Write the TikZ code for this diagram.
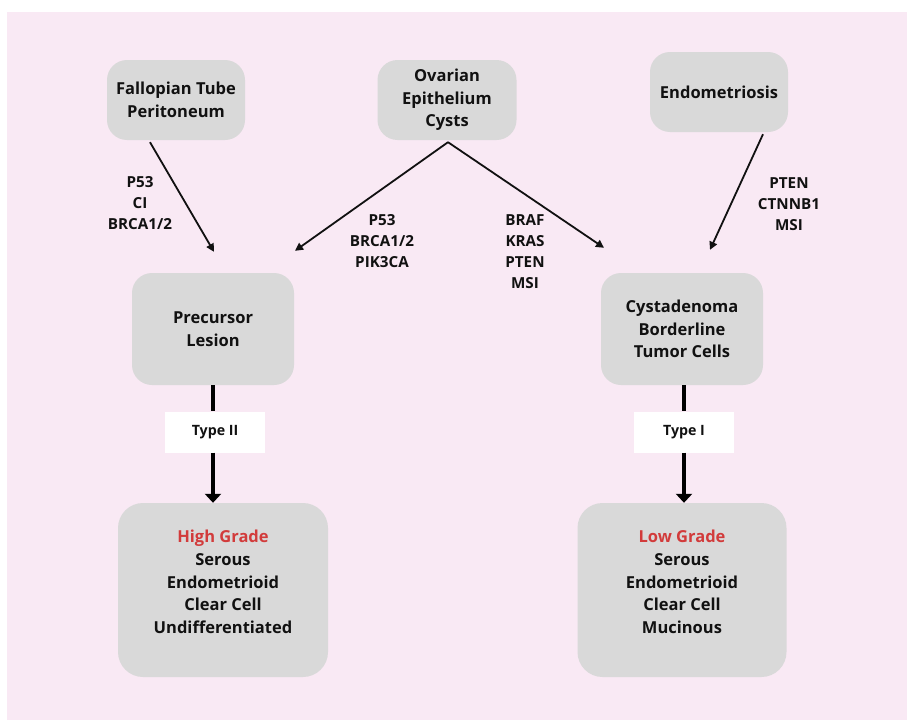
\documentclass[tikz,border=0pt]{standalone}
\usepackage{fontspec}
\setmainfont{Open Sans}
\usetikzlibrary{arrows.meta,calc}
\definecolor{bgpink}{HTML}{F9E9F4}
\definecolor{boxgray}{HTML}{D9D9D9}
\definecolor{gradered}{HTML}{D23B3B}
\definecolor{txt}{HTML}{111111}
\begin{document}
\begin{tikzpicture}[x=1pt,y=-1pt,
  box/.style={fill=boxgray, rounded corners=20pt, inner sep=0pt, align=center,
    text=txt, font=\fontsize{16.5}{22.7}\selectfont\bfseries},
  lbl/.style={align=center, text=txt, inner sep=0pt,
    font=\fontsize{15.2}{21}\selectfont\bfseries},
  typebox/.style={fill=white, inner sep=0pt, minimum width=100pt, minimum height=41pt,
    text=txt, font=\fontsize{14.2}{16}\selectfont\bfseries},
  thin/.style={draw=txt, line width=1.8pt, -{Triangle[length=8pt,width=8pt]}},
  thick/.style={draw=black, line width=4pt},
  thickarr/.style={thick, -{Triangle[length=9pt,width=16pt]}}
]
\useasboundingbox (0,0) rectangle (907,720);
\fill[bgpink] (7,12) rectangle (907,720);

% top nodes
\node[box, minimum width=138pt, minimum height=80pt] (fal) at (176,100) {Fallopian Tube\\Peritoneum};
\node[box, minimum width=139pt, minimum height=80pt] (ova) at (447,100) {Ovarian\\Epithelium\\Cysts};
\node[box, minimum width=138pt, minimum height=80pt] (endo) at (719,92) {Endometriosis};

% middle nodes
\node[box, minimum width=162pt, minimum height=112pt] (pre) at (213,329) {Precursor\\Lesion};
\node[box, minimum width=162pt, minimum height=112pt] (cys) at (682,329) {Cystadenoma\\Borderline\\Tumor Cells};

% bottom nodes
\node[box, minimum width=210pt, minimum height=174pt, rounded corners=25pt] (hg) at (223,590) {};
\node[box, fill=none, anchor=center] (hgtxt) at (223,582) {\textcolor{gradered}{High Grade}\\Serous\\Endometrioid\\Clear Cell\\Undifferentiated};
\node[box, minimum width=209pt, minimum height=174pt, rounded corners=25pt] (lg) at (682,590) {};
\node[box, fill=none, anchor=center] (lgtxt) at (682,582) {\textcolor{gradered}{Low Grade}\\Serous\\Endometrioid\\Clear Cell\\Mucinous};

% type boxes
\node[typebox] (t2) at (215,432) {Type II};
\node[typebox] (t1) at (684,432) {Type I};

% labels
\node[lbl] (lfal) at (140,203) {P53\\CI\\BRCA1/2};
\node[lbl] (lova1) at (382,241) {P53\\BRCA1/2\\PIK3CA};
\node[lbl] (lova2) at (525,251.5) {BRAF\\KRAS\\PTEN\\MSI};
\node[lbl] (lendo) at (789,204) {PTEN\\CTNNB1\\MSI};

% connectors
\coordinate (fal-out) at ($(fal.south)+(-26,2)$);
\coordinate (pre-in1) at ($(pre.north)+(1,-21)$);
\coordinate (pre-in2) at ($(pre.north)+(82,-22)$);
\coordinate (ova-out) at ($(ova.south)+(1,2)$);
\coordinate (cys-in1) at ($(cys.north)+(-78,-25)$);
\coordinate (cys-in2) at ($(cys.north)+(28,-23)$);
\coordinate (endo-out) at ($(endo.south)+(44,2)$);

\draw[thin] (fal-out) -- (pre-in1);
\draw[thin] (ova-out) -- (pre-in2);
\draw[thin] (ova-out) -- (cys-in1);
\draw[thin] (endo-out) -- (cys-in2);

\draw[thick] (pre.south) -- (pre.south |- t2.north);
\draw[thickarr] (pre.south |- t2.south) -- (pre.south |- hg.north);
\draw[thick] (t1.north |- cys.south) -- (t1.north);
\draw[thickarr] (t1.south) -- (t1.south |- lg.north);
\end{tikzpicture}
\end{document}
